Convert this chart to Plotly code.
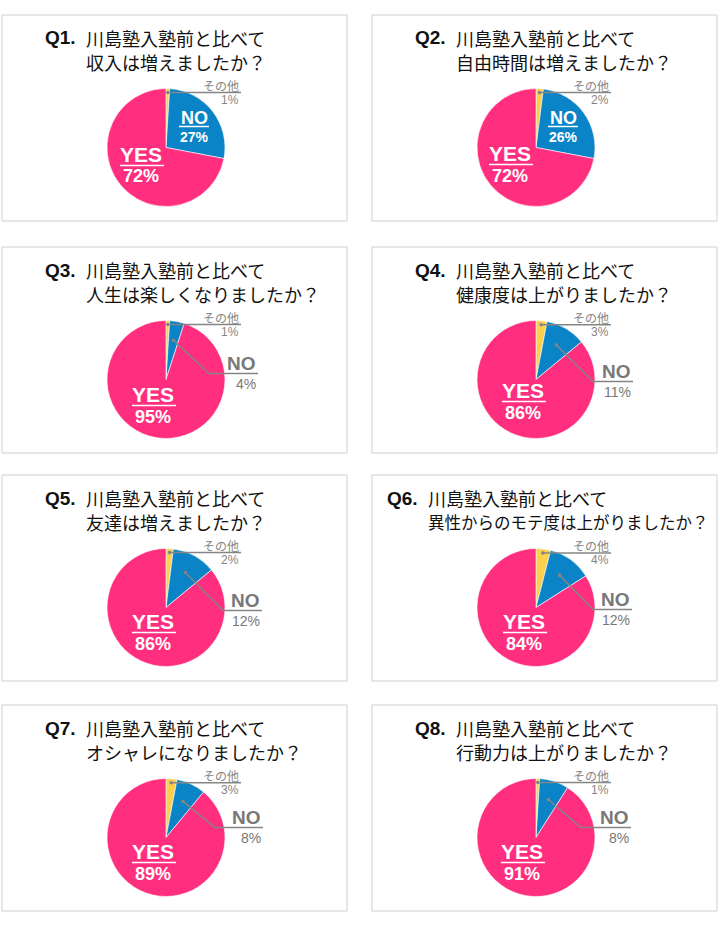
import math
import plotly.graph_objects as go

# アンケート結果（各設問：その他 / NO / YES の割合）
questions = ['Q1.', 'Q2.', 'Q3.', 'Q4.', 'Q5.', 'Q6.', 'Q7.', 'Q8.']
title_head = '川島塾入塾前と比べて'
title_tail = ['収入は増えましたか？', '自由時間は増えましたか？', '人生は楽しくなりましたか？',
              '健康度は上がりましたか？', '友達は増えましたか？', '異性からのモテ度は上がりましたか？',
              'オシャレになりましたか？', '行動力は上がりましたか？']
labels = ['その他', 'NO', 'YES']
other = [1, 2, 1, 3, 2, 4, 3, 1]
no = [27, 26, 4, 11, 12, 12, 8, 8]
yes = [72, 72, 95, 86, 86, 84, 89, 91]

# 配色
colors = ['#fccf4e', '#0a84c6', '#ff2e7e']
gray = '#858585'

# レイアウト（ピクセル単位）
W, H = 720, 928
col_x = [2, 372]
row_y = [15, 247, 475, 705]
box_w, box_h = 345, 206
R = 59
title_x = [41, 41, 41, 41, 41, 13, 41, 41]
tail_size = [18, 18, 18, 18, 18, 16.5, 18, 18]
yes_xy = [(-25, 7), (-26, 6), (-13, 15), (-13, 11), (-13, 14), (-12, 14), (-13, 14), (-14, 14)]
no_in_xy = [(28, -30), (27, -30)]
no_elbow = [None, None, (43, -6), (57, 2), (57, 3), (57, 2), (49, -10), (45, -10)]
no_right = [None, None, 92, 97, 96, 96, 97, 95]

LATIN = 'Liberation Sans, Arial, sans-serif'
JP = 'Noto Sans CJK JP, sans-serif'


def px(x):
    return x / W


def py(y):
    return 1 - y / H


fig = go.Figure()
shapes = []
annos = []


def text(x, y, s, size, color, family=LATIN, bold=False, anchor='center'):
    annos.append(dict(
        x=px(x), y=py(y), xref='paper', yref='paper', text=s, showarrow=False,
        xanchor=anchor, yanchor='middle',
        font=dict(size=size, color=color, family=family, weight='bold' if bold else 'normal')
    ))


def hline(x0, x1, y, color):
    shapes.append(dict(type='line', xref='paper', yref='paper', layer='above',
                       x0=px(x0), x1=px(x1), y0=py(y), y1=py(y),
                       line=dict(color=color, width=1.5)))


def dot(x, y):
    r = 1.8
    shapes.append(dict(type='circle', xref='paper', yref='paper', layer='above',
                       x0=px(x - r), x1=px(x + r), y0=py(y + r), y1=py(y - r),
                       fillcolor=gray, line=dict(width=0)))


for i in range(8):
    x0 = col_x[i % 2]
    y0 = row_y[i // 2]
    cx = x0 + 164
    cy = y0 + 132.5

    # 枠
    shapes.append(dict(type='rect', xref='paper', yref='paper', layer='below',
                       x0=px(x0), x1=px(x0 + box_w), y0=py(y0), y1=py(y0 + box_h),
                       line=dict(color='#cfcfcf', width=1)))

    # タイトル
    tx = x0 + title_x[i]
    text(tx, y0 + 23, questions[i], 19, '#111', bold=True, anchor='left')
    text(tx + 41, y0 + 23, title_head, 18, '#111', family=JP, anchor='left')
    text(tx + 41, y0 + 47, title_tail[i], tail_size[i], '#111', family=JP, anchor='left')

    # 円グラフ
    fig.add_trace(go.Pie(
        labels=labels,
        values=[other[i], no[i], yes[i]],
        sort=False,
        direction='clockwise',
        rotation=0,
        marker=dict(colors=colors, line=dict(color='white', width=0.6)),
        textinfo='none',
        hoverinfo='label+percent',
        showlegend=False,
        domain=dict(x=[px(cx - R), px(cx + R)], y=[py(cy + R), py(cy - R)])
    ))

    # その他ラベル
    th = math.radians(other[i] / 2 * 3.6)
    dx, dy = cx + 55 * math.sin(th), cy - 55 * math.cos(th)
    hline(dx, cx + 75, dy, gray)
    dot(dx, dy)
    text(cx + 75, dy - 7, 'その他', 12, gray, family=JP, anchor='right')
    text(cx + 75, dy + 7, f'{other[i]}%', 12, gray, anchor='right')

    # NOラベル
    if no_elbow[i] is None:
        nx, ny = cx + no_in_xy[i][0], cy + no_in_xy[i][1]
        text(nx, ny, 'NO', 18, 'white', bold=True)
        hline(nx - 15, nx + 15, ny + 9, 'white')
        text(nx, ny + 20, f'{no[i]}%', 14, 'white', bold=True)
    else:
        th = math.radians((other[i] + no[i] / 2) * 3.6)
        dx, dy = cx + 40 * math.sin(th), cy - 40 * math.cos(th)
        ex, ey = cx + no_elbow[i][0], cy + no_elbow[i][1]
        rx = cx + no_right[i]
        shapes.append(dict(type='path', xref='paper', yref='paper', layer='above',
                           path=f'M {px(dx)} {py(dy)} L {px(ex)} {py(ey)} L {px(rx)} {py(ey)}',
                           line=dict(color=gray, width=1.5)))
        dot(dx, dy)
        text(rx, ey - 10, 'NO', 19, '#787878', bold=True, anchor='right')
        text(rx, ey + 10, f'{no[i]}%', 14, '#787878', anchor='right')

    # YESラベル
    yx, yy = cx + yes_xy[i][0], cy + yes_xy[i][1]
    text(yx, yy, 'YES', 21, 'white', bold=True)
    hline(yx - 21, yx + 23, yy + 11, 'white')
    text(yx, yy + 22, f'{yes[i]}%', 18, 'white', bold=True)

fig.update_layout(
    width=W,
    height=H,
    margin=dict(l=0, r=0, t=0, b=0),
    paper_bgcolor='white',
    plot_bgcolor='white',
    shapes=shapes,
    annotations=annos,
)

# ページ余白を消して図をウィンドウ左上にぴったり合わせる
fig.write_html('out.html', config={'displayModeBar': False},
               post_script="document.body.style.margin='0';")
